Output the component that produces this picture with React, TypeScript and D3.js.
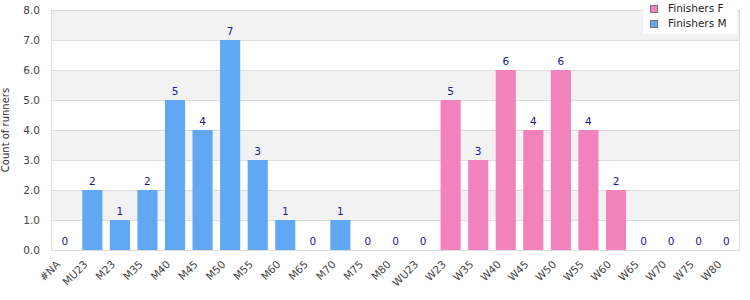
import React from "react";
import * as d3 from "d3";

const categories = ["#NA","MU23","M23","M35","M40","M45","M50","M55","M60","M65","M70","M75","M80","WU23","W23","W35","W40","W45","W50","W55","W60","W65","W70","W75","W80"];
const finishersM = [0,2,1,2,5,4,7,3,1,0,1,0,0,0,0,0,0,0,0,0,0,0,0,0,0];
const finishersF = [0,0,0,0,0,0,0,0,0,0,0,0,0,0,5,3,6,4,6,4,2,0,0,0,0];
const yTicks = [0,1,2,3,4,5,6,7,8];

const W = 750, H = 300;
const m = { left: 51, right: 10, top: 10, bottom: 50 };
const colorM = "#60a8f4";
const colorF = "#f282bc";
const font = "DejaVu Sans, Verdana, sans-serif";
const fs = 10.5;

export default function App() {
  const x = d3.scaleBand().domain(categories).range([m.left, W - m.right]).paddingInner(0.27).paddingOuter(0.135);
  const y = d3.scaleLinear().domain([0, 8]).range([H - m.bottom, m.top]);
  const plotW = W - m.right - m.left;
  return (
    <svg width={W} height={H} style={{ position: "absolute", left: 0, top: 0, background: "#fff" }}>
      {yTicks.slice(0, -1).map((t) => t % 2 === 1 ? (
        <rect key={"b" + t} x={m.left} y={y(t + 1)} width={plotW} height={y(t) - y(t + 1)} fill="#f2f2f2" />
      ) : null)}
      {yTicks.map((t) => (
        <line key={"g" + t} x1={m.left} x2={W - m.right} y1={y(t) + 0.5} y2={y(t) + 0.5} stroke="#dddddd" />
      ))}
      <line x1={m.left + 0.5} x2={m.left + 0.5} y1={m.top} y2={H - m.bottom} stroke="#dddddd" />
      <line x1={W - m.right - 0.5} x2={W - m.right - 0.5} y1={m.top} y2={H - m.bottom} stroke="#dddddd" />
      {yTicks.map((t) => (
        <text key={"yt" + t} x={m.left - 11} y={y(t) + 4} textAnchor="end" fontFamily={font} fontSize={fs} fill="#444">{t.toFixed(1)}</text>
      ))}
      <text transform={`translate(9,${(m.top + H - m.bottom) / 2}) rotate(-90)`} textAnchor="middle" fontFamily={font} fontSize={10} fill="#333">Count of runners</text>
      {categories.map((c, i) => {
        const v = finishersM[i] + finishersF[i];
        const col = finishersF[i] > 0 ? colorF : colorM;
        const bx = x(c)!;
        return (
          <g key={c}>
            {v > 0 && <rect x={bx} y={y(v)} width={x.bandwidth()} height={y(0) - y(v)} fill={col} />}
            <text x={bx + x.bandwidth() / 2} y={y(v) - 5} textAnchor="middle" fontFamily={font} fontSize={fs} fill="#1a1a8c">{v}</text>
            <text transform={`translate(${bx + x.bandwidth() / 2 - 4},${H - m.bottom + 15}) rotate(-45)`} textAnchor="end" fontFamily={font} fontSize={fs} fill="#444">{c}</text>
          </g>
        );
      })}
      <g>
        <rect x={643} y={0} width={94} height={34} fill="#fff" />
        <rect x={650.5} y={5.5} width={7} height={7} fill={colorF} stroke="#777" />
        <text x={668} y={12} fontFamily={font} fontSize={fs} fill="#222">Finishers F</text>
        <rect x={650.5} y={20.5} width={7} height={7} fill={colorM} stroke="#777" />
        <text x={668} y={27} fontFamily={font} fontSize={fs} fill="#222">Finishers M</text>
      </g>
    </svg>
  );
}
